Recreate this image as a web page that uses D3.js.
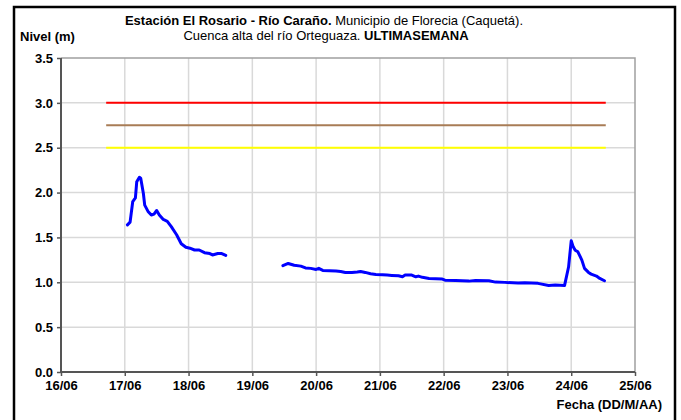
<!DOCTYPE html>
<html>
<head>
<meta charset="utf-8">
<script src="https://cdn.jsdelivr.net/npm/d3@7/dist/d3.min.js"></script>
<style>
  html, body { margin: 0; padding: 0; background: #fff; }
  svg { display: block; font-family: "Liberation Sans", Arial, sans-serif; }
</style>
</head>
<body>
<svg id="chart" width="681" height="420"></svg>
<script>
// Nivel del río Caraño, estación El Rosario (lecturas de la última semana).
// Un valor null marca el hueco sin registros entre el 18/06 y el 19/06.
const fechas = [
  "17/06 01:00", "17/06 02:00", "17/06 03:00", "17/06 04:00", "17/06 04:30",
  "17/06 05:30", "17/06 06:00", "17/06 07:00", "17/06 07:30", "17/06 08:45",
  "17/06 10:00", "17/06 11:00", "17/06 12:00", "17/06 13:00", "17/06 14:30",
  "17/06 16:00", "17/06 17:30", "17/06 19:30", "17/06 21:15", "17/06 23:00",
  "18/06 00:30", "18/06 02:15", "18/06 04:00", "18/06 06:00", "18/06 08:00",
  "18/06 09:00", "18/06 11:00", "18/06 12:30", "18/06 14:00",
  "18/06 15:00",
  "19/06 11:30", "19/06 13:30", "19/06 15:45", "19/06 18:15", "19/06 20:00",
  "19/06 22:00", "20/06 00:00", "20/06 01:00", "20/06 02:30", "20/06 05:00",
  "20/06 07:30", "20/06 09:15", "20/06 11:00", "20/06 13:30", "20/06 15:30",
  "20/06 16:45", "20/06 18:30", "20/06 20:30", "20/06 22:30", "21/06 01:00",
  "21/06 02:45", "21/06 04:30", "21/06 07:00", "21/06 08:30", "21/06 09:30",
  "21/06 12:00", "21/06 13:30", "21/06 14:30", "21/06 16:00", "21/06 18:30",
  "21/06 21:00", "21/06 23:30", "22/06 00:30", "22/06 04:30", "22/06 09:30",
  "22/06 12:00", "22/06 17:00", "22/06 19:30", "22/06 23:00", "23/06 04:00",
  "23/06 06:30", "23/06 11:30", "23/06 15:30", "23/06 18:00", "23/06 21:30",
  "23/06 23:00", "24/06 00:00", "24/06 00:45", "24/06 01:30", "24/06 02:30",
  "24/06 04:00", "24/06 05:00", "24/06 06:30", "24/06 07:30", "24/06 09:30",
  "24/06 10:45", "24/06 12:30"
];
const niveles = [
  1.64, 1.67, 1.90, 1.94, 2.12,
  2.17, 2.16, 1.99, 1.86, 1.79,
  1.75, 1.76, 1.80, 1.75, 1.70,
  1.68, 1.62, 1.53, 1.43, 1.39,
  1.38, 1.36, 1.36, 1.33, 1.32,
  1.305, 1.32, 1.32, 1.30,
  null,
  1.185, 1.21, 1.19, 1.18, 1.16,
  1.155, 1.143, 1.155, 1.132, 1.128,
  1.125, 1.12, 1.11, 1.11, 1.114,
  1.12, 1.11, 1.095, 1.088, 1.083,
  1.08, 1.077, 1.072, 1.061, 1.08,
  1.08, 1.061, 1.069, 1.055, 1.043,
  1.039, 1.036, 1.024, 1.021, 1.013,
  1.021, 1.017, 1.002, 0.999, 0.991,
  0.994, 0.988, 0.965, 0.969, 0.965,
  1.17, 1.462, 1.395, 1.358, 1.34,
  1.247, 1.155, 1.11, 1.091, 1.069,
  1.043, 1.017
];

// Niveles de alerta
const umbrales = [3.0, 2.75, 2.5];
const umbralColores = ["#ff0000", "#a87c56", "#ffff00"];
const umbralInicio = "16/06 17:00";
const umbralFin = "24/06 13:00";

const fechaInicio = "16/06 00:00";
const fechaFin = "25/06 00:00";
const nivelTicks = [0, 0.5, 1.0, 1.5, 2.0, 2.5, 3.0, 3.5];

const parse = d3.utcParse("%d/%m %H:%M");
const datos = fechas.map((f, i) => ({ t: parse(f), v: niveles[i] }));

const svg = d3.select("#chart");
const m = { left: 61, right: 635, top: 58, bottom: 372 };

const x = d3.scaleUtc()
  .domain([parse(fechaInicio), parse(fechaFin)])
  .range([m.left, m.right]);
const y = d3.scaleLinear()
  .domain([0, 3.5])
  .range([m.bottom, m.top]);

// Marco exterior
svg.append("rect")
  .attr("x", 14).attr("y", 7)
  .attr("width", 661).attr("height", 430)
  .attr("fill", "none").attr("stroke", "#000").attr("stroke-width", 2.5);

// Cuadrícula
const dias = d3.utcDay.range(parse(fechaInicio), d3.utcHour.offset(parse(fechaFin), 1));
svg.append("g").selectAll("line").data(dias.slice(1, -1)).join("line")
  .attr("x1", d => x(d)).attr("x2", d => x(d))
  .attr("y1", m.top).attr("y2", m.bottom)
  .attr("stroke", "#d9d9d9").attr("stroke-width", 1.5);
svg.append("g").selectAll("line").data(nivelTicks.slice(1, -1)).join("line")
  .attr("x1", m.left).attr("x2", m.right)
  .attr("y1", d => y(d)).attr("y2", d => y(d))
  .attr("stroke", "#d9d9d9").attr("stroke-width", 1.5);

// Bordes superior y derecho del área de trazado
svg.append("path")
  .attr("d", `M${m.left},${y(3.5)}H${m.right}V${m.bottom}`)
  .attr("fill", "none").attr("stroke", "#a0a0a0").attr("stroke-width", 1.5);

// Umbrales
svg.append("g").selectAll("line").data(umbrales).join("line")
  .attr("x1", x(parse(umbralInicio))).attr("x2", x(parse(umbralFin)))
  .attr("y1", d => y(d)).attr("y2", d => y(d))
  .attr("stroke", (d, i) => umbralColores[i]).attr("stroke-width", 2);

// Ejes
const ejeY = svg.append("g")
  .attr("transform", `translate(${m.left},0)`)
  .call(d3.axisLeft(y).tickValues(nivelTicks).tickFormat(d3.format(".1f")).tickSize(4).tickPadding(4));
const ejeX = svg.append("g")
  .attr("transform", `translate(0,${m.bottom})`)
  .call(d3.axisBottom(x).tickValues(dias).tickFormat(d3.utcFormat("%d/%m")).tickSize(4).tickPadding(5));

[ejeY, ejeX].forEach(g => {
  g.select(".domain").attr("stroke", "#555").attr("stroke-width", 2);
  g.selectAll(".tick line").attr("stroke", "#555").attr("stroke-width", 1.5);
  g.selectAll(".tick text")
    .attr("fill", "#000")
    .style("font-family", '"Liberation Sans", Arial, sans-serif')
    .style("font-size", "13px").style("font-weight", "bold");
});
ejeX.select(".domain").attr("d", `M${m.left},0H${m.right}`);
ejeY.select(".domain").attr("d", `M0,${m.bottom}V${m.top}`);

// Serie de nivel
const linea = d3.line()
  .defined(d => d.v !== null)
  .x(d => x(d.t)).y(d => y(d.v));
svg.append("path")
  .datum(datos)
  .attr("d", linea)
  .attr("fill", "none").attr("stroke", "#0000ff")
  .attr("stroke-width", 3).attr("stroke-linejoin", "round").attr("stroke-linecap", "round");

// Textos
const titulo = svg.append("g").style("font-size", "13px");
const l1 = titulo.append("text").attr("x", 324).attr("y", 25).attr("text-anchor", "middle");
l1.append("tspan").attr("font-weight", "bold").text("Estación El Rosario - Río Caraño.");
l1.append("tspan").text(" Municipio de Florecia (Caquetá).");
const l2 = titulo.append("text").attr("x", 326).attr("y", 40).attr("text-anchor", "middle");
l2.append("tspan").text("Cuenca alta del río Orteguaza. ");
l2.append("tspan").attr("font-weight", "bold").text("ULTIMASEMANA");

svg.append("text").attr("x", 20).attr("y", 41)
  .style("font-size", "13px").attr("font-weight", "bold").text("Nivel (m)");
svg.append("text").attr("x", 662).attr("y", 409).attr("text-anchor", "end")
  .style("font-size", "13px").attr("font-weight", "bold").text("Fecha (DD/M/AA)");
</script>
</body>
</html>
